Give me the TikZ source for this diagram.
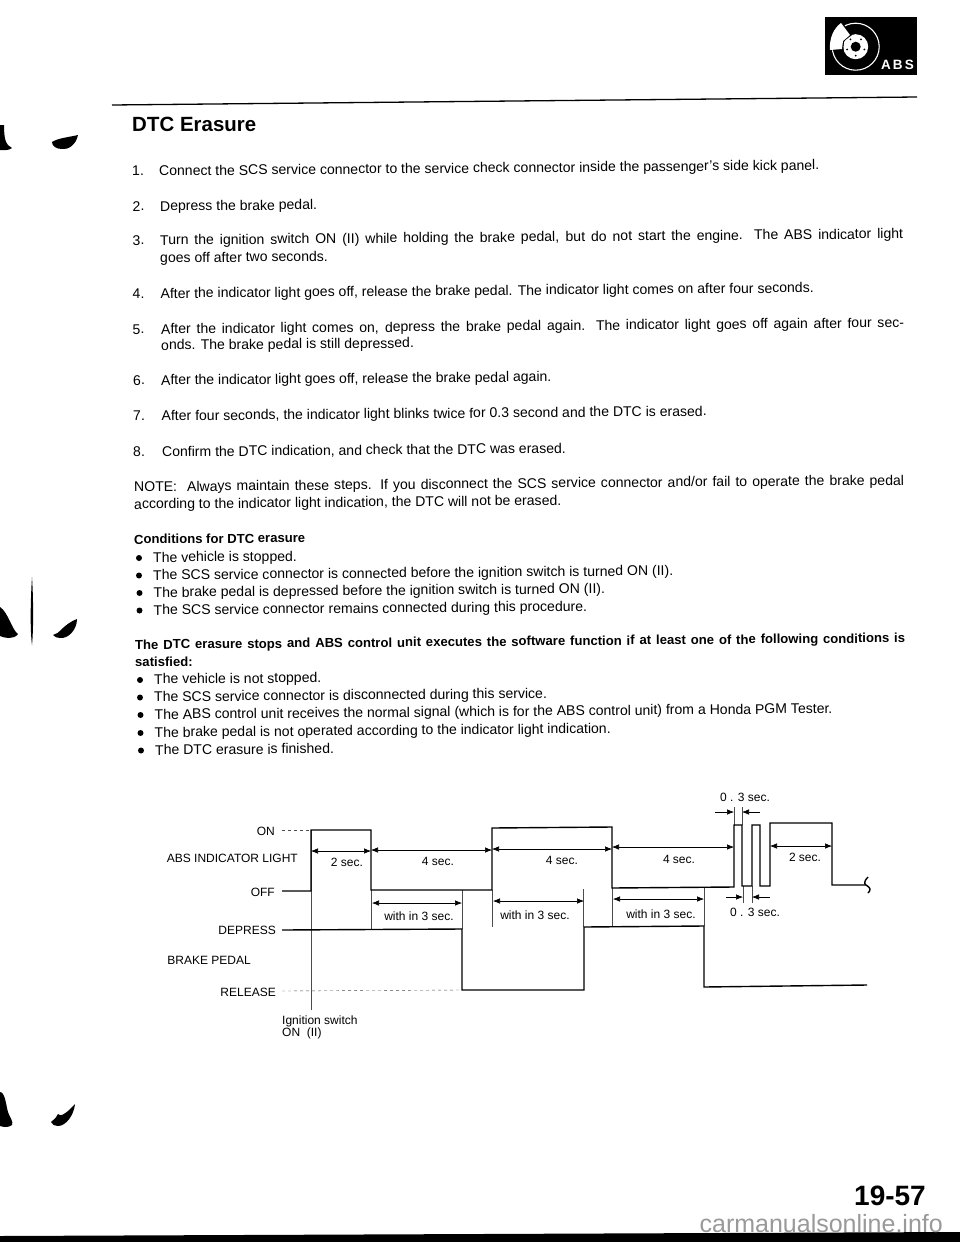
\documentclass[tikz,border=0pt]{standalone}
\usepackage{fontspec}
\setmainfont{Liberation Sans}
\usetikzlibrary{arrows.meta}
\newcommand{\fullline}[1]{\hbox to 743pt{#1}}
\tikzset{
  txt/.style={anchor=base west,inner sep=0pt,rotate=0.5,font=\fontsize{14.05}{16}\selectfont},
  hd/.style={txt,font=\fontsize{13.1}{15}\selectfont\bfseries},
  lbl/.style={anchor=base,inner sep=0pt,font=\fontsize{12}{14}\selectfont},
  lblr/.style={lbl,anchor=base east},
  lbll/.style={lbl,anchor=base west},
  wave/.style={line width=1.4pt,line join=miter},
  guide/.style={line width=0.4pt,black!70},
  dim/.style={line width=0.6pt,{Latex[length=7pt,width=5.5pt]}-{Latex[length=7pt,width=5.5pt]}},
  outer/.style={line width=0.6pt,-{Latex[length=7pt,width=5.5pt]}}
}
\begin{document}
\begin{tikzpicture}[x=1pt,y=-1pt]
\useasboundingbox (0,0) rectangle (960,1242);
% header
\fill (825,17) rectangle (917,75);
\draw[white,line width=1.1pt] (855.7,46.7) circle (23.5);
\fill[white] (855.7,46.7) circle (12.5);
\fill (855.7,46.7) circle (5);
\foreach \a in {90,162,...,378} {
  \fill (855.7,46.7) ++(\a:9) circle (1);
}
\fill[black] (829,50) .. controls (828,38) and (833,26) .. (841,21) -- (852,35) -- (844,41) -- (843,51) -- cycle;
\fill[white] (830,50) .. controls (829,38) and (834,28) .. (841,23) -- (850,35) -- (843,41) -- (842,49) -- cycle;
\node[inner sep=0pt,anchor=base,white] (badge) at (897.5,69) {\fontsize{13.5}{16}\selectfont\bfseries A\,B\,S};
\draw[line width=1.3pt] (112,105) -- (917,97);
\node[txt,font=\fontsize{20.5}{24}\selectfont\bfseries] (title) at (132,132) {DTC Erasure};
% steps
\foreach \x/\y/\t [count=\i] in {
  132/175.7/1.,
  132.5/211/2.,
  132.5/245/3.,
  132.5/298.3/4.,
  132.5/334/5.,
  133/385/6.,
  133/420.7/7.,
  133/456.7/8.} {
  \node[txt] (num\i) at (\x,\y) {\t};
}
\foreach \x/\y/\t [count=\i] in {
  159/175.7/{Connect the SCS service connector to the service check connector inside the passenger's side kick panel.},
  160/211/{Depress the brake pedal.},
  160/262.7/{goes off after two seconds.},
  160.5/298.3/{After the indicator light goes off, release the brake pedal. The indicator light comes on after four seconds.},
  161/350/{onds. The brake pedal is still depressed.},
  161/385/{After the indicator light goes off, release the brake pedal again.},
  161.5/420.7/{After four seconds, the indicator light blinks twice for 0.3 second and the DTC is erased.},
  162/456.7/{Confirm the DTC indication, and check that the DTC was erased.},
  134/509/{according to the indicator light indication, the DTC will not be erased.},
  153/562.3/{The vehicle is stopped.},
  153/580/{The SCS service connector is connected before the ignition switch is turned ON (II).},
  153.5/597.3/{The brake pedal is depressed before the ignition switch is turned ON (II).},
  153.5/615/{The SCS service connector remains connected during this procedure.},
  154/684/{The vehicle is not stopped.},
  154/701.7/{The SCS service connector is disconnected during this service.},
  154.5/719.3/{The ABS control unit receives the normal signal (which is for the ABS control unit) from a Honda PGM Tester.},
  154.5/737.3/{The brake pedal is not operated according to the indicator light indication.},
  155/755/{The DTC erasure is finished.}} {
  \node[txt] (line\i) at (\x,\y) {\t};
}
\node[txt] (just1) at (160,245) {\fullline{Turn the ignition switch ON (II) while holding the brake pedal, but do not start the engine. The ABS indicator light}};
\node[txt] (just2) at (161,334) {\fullline{After the indicator light comes on, depress the brake pedal again. The indicator light goes off again after four sec-}};
\node[txt] (just3) at (134,491.7) {\hbox to 770pt{NOTE:\ \ Always maintain these steps. If you disconnect the SCS service connector and/or fail to operate the brake pedal}};
\node[hd] (cond) at (134,544) {Conditions for DTC erasure};
\node[hd] (stops) at (135,649.3) {\hbox to 770pt{The DTC erasure stops and ABS control unit executes the software function if at least one of the following conditions is}};
\node[hd] (sat) at (135,666.7) {satisfied:};
\foreach \x/\y in {139/558,139/575.5,139.5/593,139.5/610.5,140/680,140/697.5,140.5/715,140.5/733,141/750.5} {
  \fill (\x,\y) circle (3);
}
% chart labels
\node[lblr] (on) at (275,835) {ON};
\node[lblr] (abs) at (298,862) {ABS INDICATOR LIGHT};
\node[lblr] (off) at (275,896) {OFF};
\node[lblr] (depress) at (276,934) {DEPRESS};
\node[lblr] (brake) at (251,964) {BRAKE PEDAL};
\node[lblr] (release) at (276,996) {RELEASE};
\node[lbll] (ign) at (282,1024) {Ignition switch};
\node[lbll] (onii) at (282,1036) {ON\ \ (II)};
% guides
\draw[guide,dashed] (282,830) -- (310,830);
\draw[guide,dashed] (282,991) -- (462,990);
\draw[guide] (311,830) -- (311,1010);
\foreach \x/\a/\b in {371/890/929,462/890/929,492/890/927,583.5/889/927,612.5/888/926,704/888/926,
                      733.7/807/825,742/807/825,743/886/903,752/886/903} {
  \draw[guide] (\x,\a) -- (\x,\b);
}
% traces
\draw[wave] (282,891) -- (311,891) -- (311,830) -- (371,830) -- (371,890) -- (492,890) -- (492,828)
  -- (612,827) -- (612,888) -- (734,887) -- (734,825) -- (742,825) -- (742,886) -- (752,886) -- (752,825)
  -- (760,825) -- (760,886) -- (770,886) -- (770,823) -- (832,823) -- (832,885) -- (866,885);
\draw[wave] (868,877) .. controls (864,881) and (864,884) .. (866,885) .. controls (871,888) and (871,890) .. (868,893);
\draw[wave] (282,930) -- (462,929) -- (462,990) -- (584,990) -- (584,927) -- (704,926) -- (704,987) -- (867,985);
% timing
\foreach \a/\b/\y/\lx/\ly/\t [count=\i] in {
  311/371/851/347/866/2 sec.,
  371/492/850/438/865/4 sec.,
  492/612/849/562/864/4 sec.,
  612/734/847/679/863/4 sec.,
  770/832/846/805/861/2 sec.,
  372/462/903/419/920/with in 3 sec.,
  493/584/901/535/919/with in 3 sec.,
  613/704/899/661/918/with in 3 sec.} {
  \draw[dim] (\a,\y) -- (\b,\y);
  \node[lbl] (time\i) at (\lx,\ly) {\t};
}
\draw[outer] (715,812) -- (734,812);
\draw[outer] (760,812) -- (742,812);
\draw[outer] (726,897) -- (743,897);
\draw[outer] (770,897) -- (752,897);
\node[lbl] (blinka) at (745,801.5) {0 . 3 sec.};
\node[lbl] (blinkb) at (755,916) {0 . 3 sec.};
% page marks
\fill (0,125) -- (4,125) .. controls (4,140) and (6,145) .. (12,148) .. controls (8,151) and (3,150) .. (0,150) -- cycle;
\fill (52,142) .. controls (58,138) and (70,137) .. (78,135) .. controls (76,145) and (68,150) .. (62,149) .. controls (56,149) and (52,146) .. (52,142) -- cycle;
\fill (0,607) .. controls (8,612) and (12,630) .. (18,634) .. controls (14,640) and (4,638) .. (0,636) -- cycle;
\fill (32,577) .. controls (33.5,600) and (33.5,630) .. (32,645) .. controls (30,630) and (30.5,600) .. (32,577) -- cycle;
\fill (53,635) .. controls (60,634) and (62,625) .. (77,619) .. controls (77,630) and (68,639) .. (60,638) .. controls (57,638) and (55,637) .. (53,635) -- cycle;
\fill (0,1092) .. controls (5,1092) and (6,1105) .. (8,1112) .. controls (9,1116) and (14,1122) .. (12,1125) .. controls (8,1128) and (3,1127) .. (0,1126) -- cycle;
\fill (51,1122) .. controls (56,1118) and (57,1116) .. (58,1114) .. controls (60,1118) and (68,1112) .. (75,1104) .. controls (74,1115) and (66,1126) .. (58,1126) .. controls (55,1126) and (52,1125) .. (51,1122) -- cycle;
\fill (0,1236) -- (960,1232) -- (960,1242) -- (0,1242) -- cycle;
\node[inner sep=0pt,anchor=base east] (page) at (926,1205) {\fontsize{28}{30}\selectfont\bfseries 19-57};
\node[inner sep=0pt,anchor=base east,black!40] (site) at (943,1232) {\fontsize{25}{28}\selectfont carmanualsonline.info};
\end{tikzpicture}
\end{document}
